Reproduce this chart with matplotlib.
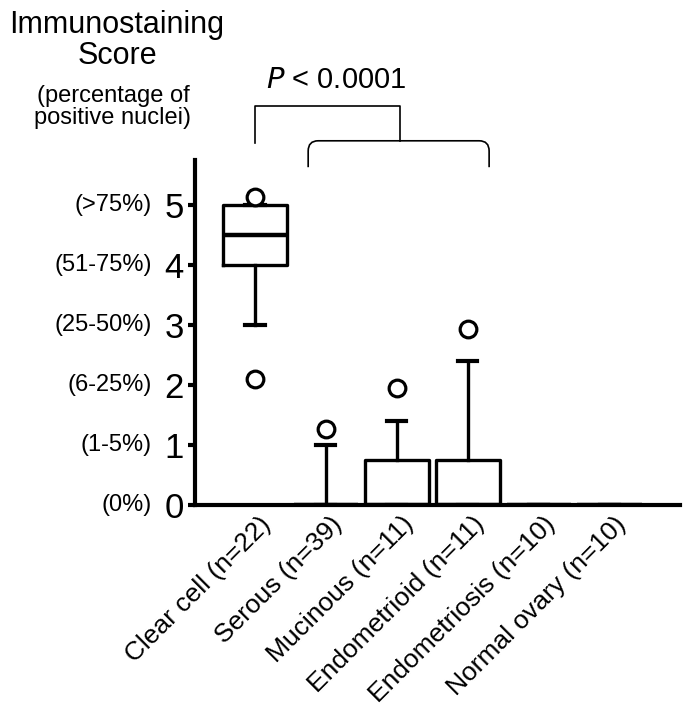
import numpy as np
import matplotlib
matplotlib.use("Agg")
import matplotlib.pyplot as plt
from matplotlib.path import Path
from matplotlib.patches import PathPatch
from matplotlib.transforms import ScaledTranslation

plt.rcParams['font.family'] = ['Liberation Sans', 'DejaVu Sans']

# groups and box statistics
groups = ["Clear cell (n=22)", "Serous (n=39)", "Mucinous (n=11)",
          "Endometrioid (n=11)", "Endometriosis (n=10)", "Normal ovary (n=10)"]
q1 = [4.0, 0.0, 0.0, 0.0, 0.0, 0.0]
med = [4.5, 0.0, 0.0, 0.0, 0.0, 0.0]
q3 = [5.0, 0.0, 0.75, 0.75, 0.0, 0.0]
whislo = [3.0, 0.0, 0.0, 0.0, 0.0, 0.0]
whishi = [5.0, 1.0, 1.4, 2.4, 0.0, 0.0]
fliers = [[5.14, 2.1], [1.27], [1.95], [2.93], [], []]

score_ticks = [0, 1, 2, 3, 4, 5]
pct_labels = ["(0%)", "(1-5%)", "(6-25%)", "(25-50%)", "(51-75%)", "(>75%)"]

fig = plt.figure(figsize=(6.86, 7.2), dpi=100)
ax = fig.add_axes([195 / 686, 1 - 505 / 720, 485 / 686, 345 / 720])

stats = []
for i in range(len(groups)):
    stats.append(dict(q1=q1[i], med=med[i], q3=q3[i], whislo=whislo[i],
                      whishi=whishi[i], fliers=fliers[i], label=groups[i]))

lw = 2.4
ax.bxp(stats, positions=np.arange(len(groups)), widths=0.91, capwidths=0.27,
       boxprops=dict(color='black', linewidth=lw),
       whiskerprops=dict(color='black', linewidth=lw),
       capprops=dict(color='black', linewidth=3.0),
       medianprops=dict(color='black', linewidth=3.2),
       flierprops=dict(marker='o', markersize=12, markerfacecolor='white',
                       markeredgecolor='black', markeredgewidth=2.3))

ax.set_xlim(-0.845, 5.99)
ax.set_ylim(0, 5.75)

for s in ['top', 'right']:
    ax.spines[s].set_visible(False)
ax.spines['left'].set_linewidth(3)
ax.spines['bottom'].set_linewidth(3)

ax.set_yticks(score_ticks)
ax.set_yticklabels([str(t) for t in score_ticks], fontsize=25)
ax.tick_params(axis='y', length=5, width=3, pad=3)
ax.tick_params(axis='x', length=0, pad=5)
ax.set_xticks(np.arange(len(groups)))
ax.set_xticklabels(groups, rotation=45, ha='right', va='top',
                   rotation_mode='anchor', fontsize=19)
for lab in ax.get_xticklabels():
    lab.set_transform(lab.get_transform() + ScaledTranslation(3 / 72, 0, fig.dpi_scale_trans))

# percentage labels in front of the score numbers
ytrans = ax.get_yaxis_transform()
for t, p in zip(score_ticks, pct_labels):
    ax.text(-43 / 485, t, p, transform=ytrans, ha='right', va='center',
            fontsize=17, clip_on=False)

# axis title block
fig.text(117 / 686, 1 - 10 / 720, "Immunostaining\nScore", ha='center', va='top',
         fontsize=22, linespacing=1.05)
fig.text(113 / 686, 1 - 85 / 720, "(percentage of\npositive nuclei)", ha='center',
         va='top', fontsize=17, linespacing=1.0)

# significance brackets
ax.plot([0.0, 0.0, 2.04, 2.04], [6.03, 6.65, 6.65, 6.07], color='black',
        linewidth=1.2, clip_on=False)
x0, x1, ytop, ybot, rx, ry = 0.75, 3.30, 6.07, 5.63, 0.14, 0.17
verts = [(x0, ybot), (x0, ytop - ry), (x0, ytop), (x0 + rx, ytop),
         (x1 - rx, ytop), (x1, ytop), (x1, ytop - ry), (x1, ybot)]
codes = [Path.MOVETO, Path.LINETO, Path.CURVE3, Path.CURVE3,
         Path.LINETO, Path.CURVE3, Path.CURVE3, Path.LINETO]
ax.add_patch(PathPatch(Path(verts, codes), facecolor='none', edgecolor='black',
                       linewidth=1.2, clip_on=False))
ax.text(1.14, 6.95, r"$\it{P}$ < 0.0001", ha='center', va='baseline', fontsize=21,
        clip_on=False)

fig.savefig("out.png", dpi=100)
